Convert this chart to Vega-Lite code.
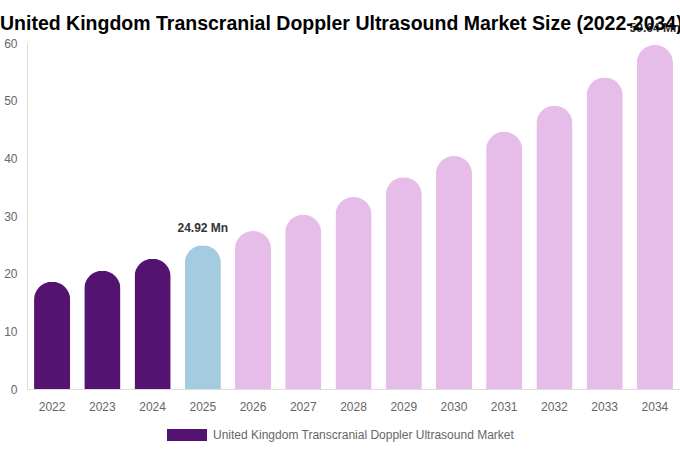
{
  "$schema": "https://vega.github.io/schema/vega-lite/v6.json",
  "width": 653,
  "height": 346,
  "autosize": "none",
  "padding": {"left": 27, "top": 43, "right": 0, "bottom": 61},
  "background": "white",
  "title": {
    "text": "United Kingdom Transcranial Doppler Ultrasound Market Size (2022-2034)",
    "anchor": "start",
    "frame": "group",
    "dx": -27,
    "offset": -12,
    "font": "Liberation Sans",
    "fontSize": 19.5,
    "fontWeight": "bold",
    "color": "#000000"
  },
  "config": {
    "view": {"stroke": null},
    "font": "Liberation Sans"
  },
  "data": {
    "values": [
      {"year": "2022", "value": 18.6, "phase": "historical"},
      {"year": "2023", "value": 20.5, "phase": "historical"},
      {"year": "2024", "value": 22.6, "phase": "historical"},
      {"year": "2025", "value": 24.92, "phase": "base", "label": "24.92 Mn"},
      {"year": "2026", "value": 27.4, "phase": "forecast"},
      {"year": "2027", "value": 30.2, "phase": "forecast"},
      {"year": "2028", "value": 33.3, "phase": "forecast"},
      {"year": "2029", "value": 36.7, "phase": "forecast"},
      {"year": "2030", "value": 40.4, "phase": "forecast"},
      {"year": "2031", "value": 44.6, "phase": "forecast"},
      {"year": "2032", "value": 49.1, "phase": "forecast"},
      {"year": "2033", "value": 54.0, "phase": "forecast"},
      {"year": "2034", "value": 59.64, "phase": "forecast", "label": "59.64 Mn"}
    ]
  },
  "encoding": {
    "x": {
      "field": "year",
      "type": "ordinal",
      "scale": {"paddingInner": 0.28, "paddingOuter": 0.14},
      "axis": {
        "title": null,
        "labelAngle": 0,
        "ticks": false,
        "labelPadding": 12,
        "labelFontSize": 12,
        "labelColor": "#666666",
        "domainColor": "#dddddd"
      }
    },
    "y": {
      "field": "value",
      "type": "quantitative",
      "scale": {"domain": [0, 60]},
      "axis": {
        "title": null,
        "values": [0, 10, 20, 30, 40, 50, 60],
        "grid": false,
        "ticks": false,
        "labelPadding": 10,
        "labelFontSize": 12,
        "labelColor": "#666666",
        "domainColor": "#dddddd"
      }
    }
  },
  "layer": [
    {
      "mark": {"type": "bar", "cornerRadiusTopLeft": 18, "cornerRadiusTopRight": 18},
      "encoding": {
        "color": {
          "field": "phase",
          "type": "nominal",
          "scale": {"domain": ["historical", "base", "forecast"], "range": ["#541271", "#A4CBE0", "#E6BDE8"]},
          "legend": null
        }
      }
    },
    {
      "transform": [{"filter": "datum.year == 'none'"}],
      "mark": {"type": "bar"},
      "encoding": {
        "fill": {
          "datum": "United Kingdom Transcranial Doppler Ultrasound Market",
          "type": "nominal",
          "scale": {"range": ["#541271"]},
          "legend": {
            "title": null,
            "orient": "none",
            "legendX": 140,
            "legendY": 372,
            "direction": "horizontal",
            "symbolType": "M-1,-0.3H1V0.3H-1Z",
            "symbolSize": 1600,
            "symbolStrokeWidth": 0,
            "labelFontSize": 12,
            "labelColor": "#666666",
            "labelLimit": 0,
            "labelOffset": 6
          }
        }
      }
    },
    {
      "transform": [{"filter": "datum.label != null"}],
      "mark": {"type": "text", "baseline": "bottom", "dy": -10, "fontSize": 12, "fontWeight": "bold", "color": "#333333"},
      "encoding": {
        "text": {"field": "label"}
      }
    }
  ]
}
